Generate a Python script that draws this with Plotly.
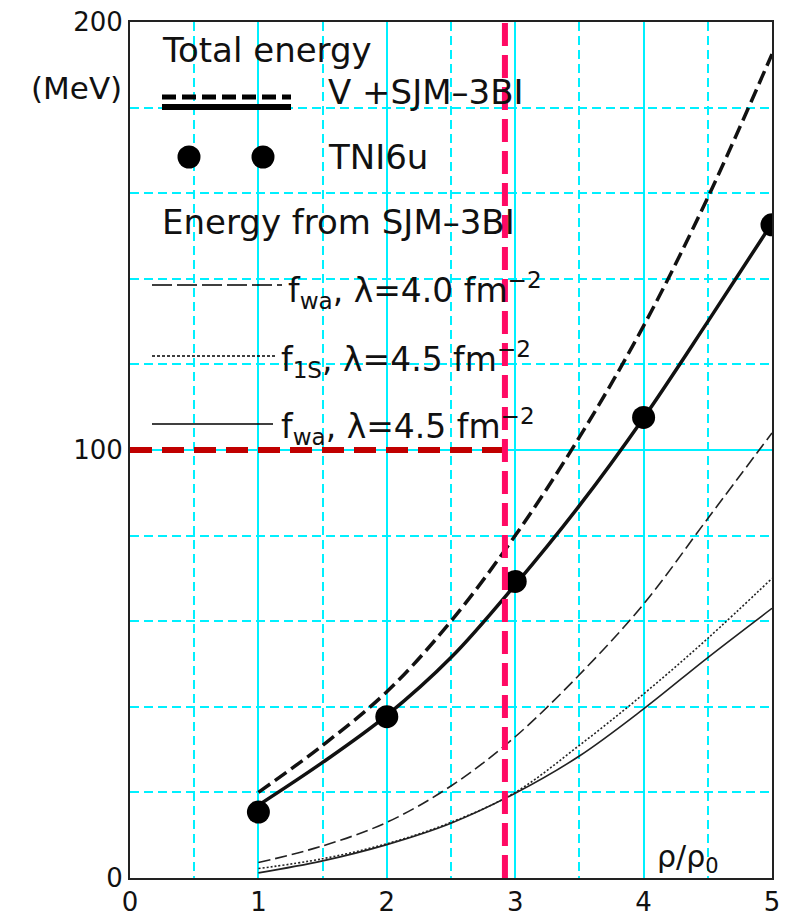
import plotly.graph_objects as go

# density in units of rho_0
rho = [1.0, 1.5, 2.0, 2.5, 3.0, 3.5, 4.0, 4.5, 5.0]

# total energy per nucleon (MeV), V + SJM-3BI
total_dashed = [20.0, 31.0, 43.5, 60.0, 80.0, 103.0, 129.0, 159.0, 192.5]
total_solid = [17.0, 27.0, 38.0, 51.5, 68.5, 87.0, 107.5, 130.0, 153.0]

# TNI6u points
tni_rho = [1, 2, 3, 4, 5]
tni_energy = [15.4, 37.7, 69.3, 107.6, 152.6]

# energy contributed by SJM-3BI
sjm_fwa_40 = [3.6, 7.5, 13.0, 21.5, 33.0, 47.5, 64.0, 84.0, 104.0]
sjm_f1s_45 = [2.2, 4.5, 8.0, 13.0, 20.0, 31.0, 43.0, 56.0, 70.0]
sjm_fwa_45 = [1.2, 4.0, 7.8, 12.8, 19.8, 28.5, 39.5, 51.5, 63.0]

# reference markers
ref_rho = 2.92
ref_energy = 100.0

x_ticks = [0, 1, 2, 3, 4, 5]
y_ticks = [0, 100, 200]

FONT = "DejaVu Sans"
CYAN = "#00f0ff"

fig = go.Figure()

fig.add_trace(go.Scatter(x=rho, y=sjm_fwa_40, mode="lines", line_shape="spline",
                         line=dict(color="#222", width=1.6, dash="12px,5px")))
fig.add_trace(go.Scatter(x=rho, y=sjm_f1s_45, mode="lines", line_shape="spline",
                         line=dict(color="#222", width=1.6, dash="2px,2px")))
fig.add_trace(go.Scatter(x=rho, y=sjm_fwa_45, mode="lines", line_shape="spline",
                         line=dict(color="#222", width=1.6)))
fig.add_trace(go.Scatter(x=rho, y=total_dashed, mode="lines", line_shape="spline",
                         line=dict(color="#111", width=3.5, dash="14px,6px")))
fig.add_trace(go.Scatter(x=rho, y=total_solid, mode="lines", line_shape="spline",
                         line=dict(color="#111", width=3.5)))
fig.add_trace(go.Scatter(x=tni_rho, y=tni_energy, mode="markers",
                         marker=dict(color="black", size=23)))

# reference lines
fig.add_trace(go.Scatter(x=[0, ref_rho], y=[ref_energy, ref_energy], mode="lines",
                         line=dict(color="#c00000", width=6, dash="22px,10px")))
fig.add_trace(go.Scatter(x=[ref_rho, ref_rho], y=[0, 200], mode="lines",
                         line=dict(color="#ff0a64", width=6, dash="23px,9px")))

# plot-area geometry used for the hand-built legend
L, R, T, B = 130, 772, 22, 878


def px(xp):
    return (xp - L) / (R - L)


def py(yp):
    return (B - yp) / (B - T)


shapes = []


def seg(x0, x1, y, width, dash="solid"):
    shapes.append(dict(type="line", xref="paper", yref="paper",
                       x0=px(x0), x1=px(x1), y0=py(y), y1=py(y),
                       line=dict(color="black", width=width, dash=dash)))


seg(162, 291, 97, 5, "14px,6px")
seg(162, 291, 107, 6)
for cx in (189, 263):
    r = 11.5
    shapes.append(dict(type="circle", xref="paper", yref="paper",
                       x0=px(cx - r), x1=px(cx + r), y0=py(157 + r), y1=py(157 - r),
                       fillcolor="black", line=dict(color="black", width=0)))
seg(152, 282, 285, 1.6, "20px,5px")
seg(152, 275, 356, 1.4, "3px,2px")
seg(152, 273, 424, 1.6)

annotations = []


def label(text, x, y, size, xanchor="left"):
    annotations.append(dict(text=text, xref="paper", yref="paper", x=px(x), y=py(y),
                            xanchor=xanchor, yanchor="middle", showarrow=False,
                            font=dict(family=FONT, size=size, color="#111")))


label("Total energy", 160, 50, 34)
label("V +SJM\u20133BI", 326, 92, 34)
label("TNI6u", 326, 157, 34)
label("Energy from SJM\u20133BI", 160, 222, 34)
label("f<sub>wa</sub>, \u03bb=4.0 fm<sup>\u22122</sup>", 286, 290, 33)
label("f<sub>1S</sub>, \u03bb=4.5 fm<sup>\u22122</sup>", 279, 360, 33)
label("f<sub>wa</sub>, \u03bb=4.5 fm<sup>\u22122</sup>", 279, 427, 33)
label("(MeV)", 124, 88, 31, xanchor="right")
label("\u03c1/\u03c1<sub>0</sub>", 655, 858, 30)

fig.update_layout(
    width=794, height=917,
    margin=dict(l=L, r=794 - R, t=T, b=917 - B, autoexpand=False),
    paper_bgcolor="white", plot_bgcolor="white",
    showlegend=False,
    shapes=shapes, annotations=annotations,
    font=dict(family=FONT, size=26, color="#111"),
)
fig.update_xaxes(
    range=[0, 5], tickvals=x_ticks, ticks="", showgrid=True, gridcolor=CYAN, gridwidth=2,
    minor=dict(dtick=0.5, showgrid=True, gridcolor=CYAN, gridwidth=2, griddash="9px,5px"),
    zeroline=False, showline=True, mirror=True, linecolor="#222", linewidth=2,
    tickfont=dict(family=FONT, size=26), automargin=False,
)
fig.update_yaxes(
    range=[0, 200], tickvals=y_ticks, ticks="", showgrid=True, gridcolor=CYAN, gridwidth=2,
    minor=dict(dtick=20, showgrid=True, gridcolor=CYAN, gridwidth=2, griddash="9px,5px"),
    zeroline=False, showline=True, mirror=True, linecolor="#222", linewidth=2,
    tickfont=dict(family=FONT, size=26), automargin=False,
)

fig.write_html("out.html")
